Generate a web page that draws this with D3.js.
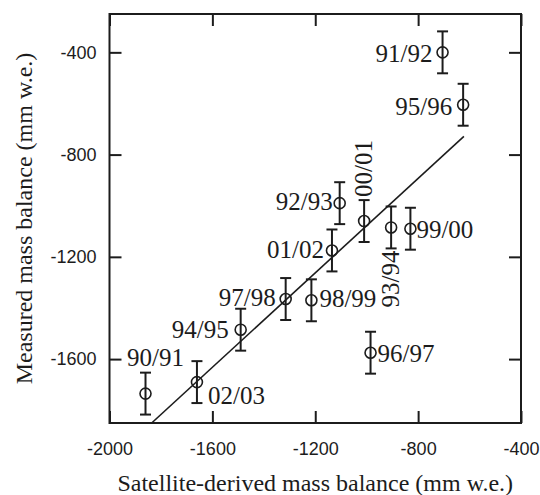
<!DOCTYPE html>
<html>
<head>
<meta charset="utf-8">
<script src="https://d3js.org/d3.v7.min.js"></script>
<style>
  body { margin: 0; background: #fff; }
  svg { display: block; }
</style>
</head>
<body>
<div id="viz"></div>
<script>
// one entry per balance year
const seasons   = ["90/91","91/92","92/93","93/94","94/95","95/96","96/97","97/98","98/99","99/00","00/01","01/02","02/03"];
const satellite = [-1860, -705, -1105, -905, -1490, -625, -985, -1315, -1215, -830, -1010, -1135, -1660];
const measured  = [-1735, -400, -990, -1085, -1485, -605, -1575, -1365, -1370, -1090, -1060, -1175, -1690];
const errMeasured = [82, 82, 82, 82, 82, 82, 82, 82, 82, 82, 82, 82, 82];

// regression line end points (satellite, measured)
const fitX = [-1836, -622];
const fitY = [-1850, -729];

const xTicks = [-2000, -1600, -1200, -800, -400];
const yTicks = [-1600, -1200, -800, -400];

// where each year label sits relative to its marker
const labelPos = {
  "90/91": {a: "middle", dx: 10, dy: -28},
  "91/92": {a: "end", dx: -10, dy: 10},
  "92/93": {a: "end", dx: -7, dy: 7},
  "93/94": {a: "start", dx: 8, dy: 80, rot: true},
  "94/95": {a: "end", dx: -12, dy: 8},
  "95/96": {a: "end", dx: -11, dy: 10},
  "96/97": {a: "start", dx: 7, dy: 9},
  "97/98": {a: "end", dx: -10, dy: 7},
  "98/99": {a: "start", dx: 8, dy: 7},
  "99/00": {a: "start", dx: 6, dy: 9},
  "00/01": {a: "start", dx: 8, dy: -24, rot: true},
  "01/02": {a: "end", dx: -8, dy: 8},
  "02/03": {a: "start", dx: 11, dy: 22}
};

const width = 540, height = 495;
const mLeft = 109.5, mRight = 521, mTop = 14, mBottom = 423;
const ink = "#1c1c1c";
const serif = "'Liberation Serif', 'DejaVu Serif', serif";

const svg = d3.select("#viz").append("svg")
  .attr("width", width)
  .attr("height", height);

const x = d3.scaleLinear().domain([-2000, -400]).range([mLeft, mRight]);
const y = d3.scaleLinear().domain([-1850, -250]).range([mBottom, mTop]);

const data = seasons.map((s, i) => ({
  season: s, sx: satellite[i], my: measured[i], err: errMeasured[i]
}));

// axes: ticks point inward on all four sides
function styleAxis(g) {
  g.select(".domain").remove();
  g.selectAll(".tick line").attr("stroke", ink).attr("stroke-width", 2);
  g.selectAll(".tick text")
    .attr("fill", ink)
    .style("font-family", "'Liberation Sans', Arial, sans-serif")
    .style("font-size", "18px");
}

svg.append("g")
  .attr("transform", `translate(0,${mBottom})`)
  .call(d3.axisBottom(x).tickValues(xTicks).tickSize(-12).tickSizeOuter(0)
    .tickPadding(19).tickFormat(d => String(d)))
  .call(styleAxis);

svg.append("g")
  .attr("transform", `translate(${mLeft},0)`)
  .call(d3.axisLeft(y).tickValues(yTicks).tickSize(-12).tickSizeOuter(0)
    .tickPadding(13).tickFormat(d => String(d)))
  .call(styleAxis);

svg.append("g")
  .attr("transform", `translate(0,${mTop})`)
  .call(d3.axisTop(x).tickValues(xTicks).tickSize(-12).tickSizeOuter(0).tickFormat(""))
  .call(styleAxis);

svg.append("g")
  .attr("transform", `translate(${mRight},0)`)
  .call(d3.axisRight(y).tickValues(yTicks).tickSize(-12).tickSizeOuter(0).tickFormat(""))
  .call(styleAxis);

svg.append("rect")
  .attr("x", mLeft).attr("y", mTop)
  .attr("width", mRight - mLeft).attr("height", mBottom - mTop)
  .attr("fill", "none")
  .attr("stroke", ink)
  .attr("stroke-width", 2);

// fitted line
svg.append("path")
  .datum(fitX.map((v, i) => [v, fitY[i]]))
  .attr("fill", "none")
  .attr("stroke", ink)
  .attr("stroke-width", 1.6)
  .attr("d", d3.line().x(d => x(d[0])).y(d => y(d[1])));

// error bars + markers
const pt = svg.selectAll(".pt").data(data).enter().append("g").attr("class", "pt");

pt.append("line")
  .attr("x1", d => x(d.sx)).attr("x2", d => x(d.sx))
  .attr("y1", d => y(d.my - d.err)).attr("y2", d => y(d.my + d.err))
  .attr("stroke", ink).attr("stroke-width", 2);

[-1, 1].forEach(s => {
  pt.append("line")
    .attr("x1", d => x(d.sx) - 5.5).attr("x2", d => x(d.sx) + 5.5)
    .attr("y1", d => y(d.my + s * d.err)).attr("y2", d => y(d.my + s * d.err))
    .attr("stroke", ink).attr("stroke-width", 2);
});

pt.append("circle")
  .attr("cx", d => x(d.sx)).attr("cy", d => y(d.my))
  .attr("r", 5.5)
  .attr("fill", "none")
  .attr("stroke", ink)
  .attr("stroke-width", 1.6);

// year labels
pt.append("text")
  .text(d => d.season)
  .attr("text-anchor", d => labelPos[d.season].a)
  .attr("transform", d => {
    const p = labelPos[d.season];
    const t = `translate(${x(d.sx) + p.dx},${y(d.my) + p.dy})`;
    return p.rot ? t + " rotate(-90)" : t;
  })
  .attr("fill", ink)
  .style("font-family", serif)
  .style("font-size", "25px");

// axis titles
svg.append("text")
  .attr("x", (mLeft + mRight) / 2)
  .attr("y", 491)
  .attr("text-anchor", "middle")
  .attr("fill", ink)
  .style("font-family", serif)
  .style("font-size", "24px")
  .text("Satellite-derived mass balance (mm w.e.)");

svg.append("text")
  .attr("transform", `translate(32,${(mTop + mBottom) / 2}) rotate(-90)`)
  .attr("text-anchor", "middle")
  .attr("fill", ink)
  .style("font-family", serif)
  .style("font-size", "24px")
  .text("Measured mass balance (mm w.e.)");
</script>
</body>
</html>
